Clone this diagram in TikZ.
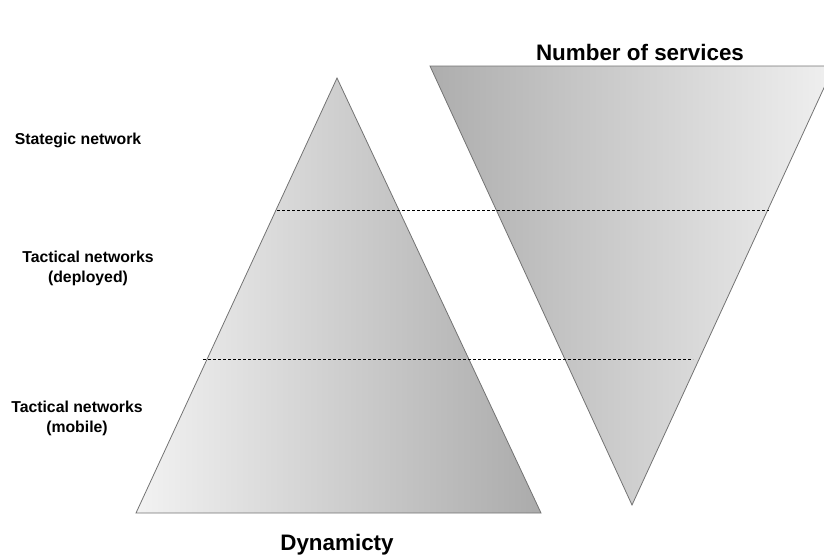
\documentclass[tikz,border=0pt]{standalone}
\usepackage{fontspec}
\setmainfont{Liberation Sans}
\tikzset{
  label/.style={font=\bfseries\fontsize{15.8}{20}\selectfont, align=center},
  title/.style={font=\bfseries\fontsize{22.4}{26}\selectfont},
  edge/.style={draw=black!55, line width=0.8pt},
  level/.style={dashed, line width=0.6pt, dash pattern=on 3pt off 2pt}
}
\begin{document}
\begin{tikzpicture}[x=1pt, y=-1pt]
      \useasboundingbox (0,0) rectangle (824,558);
      \clip (0,0) rectangle (824,558);
      \coordinate (top) at (337,78);
      \coordinate (bl) at (136,513);
      \coordinate (br) at (541,513);
      \coordinate (tl) at (430,66);
      \coordinate (tr) at (834,66);
      \coordinate (bot) at (632,505);
      \shade[left color=black!5, right color=black!33] (top) -- (br) -- (bl) -- cycle;
      \draw[edge] (top) -- (br) -- (bl) -- cycle;
      \shade[left color=black!32, right color=black!6] (tl) -- (tr) -- (bot) -- cycle;
      \draw[edge] (tl) -- (tr) -- (bot) -- cycle;
      \coordinate (a1) at (277,210);
      \coordinate (a2) at (769,210);
      \coordinate (b1) at (203,359);
      \coordinate (b2) at (693,359);
      \begin{scope}[level]
        \draw (a1) to (a2);
        \draw (b1) to (b2);
      \end{scope}
      \draw
        (78,140) node[label] (strat){Stategic network}
        (88,268) node[label] (depl){Tactical networks\\(deployed)}
        (77,418) node[label] (mob){Tactical networks\\(mobile)}
        (640,52) node[title] (serv){Number of services}
        (337,545) node[title] (dyn){Dynamicty};
    \end{tikzpicture}
\end{document}
